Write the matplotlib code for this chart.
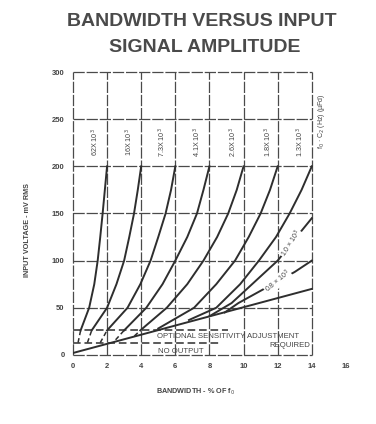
import matplotlib
matplotlib.use("Agg")
import matplotlib.pyplot as plt

plt.rcParams['font.family'] = ['Liberation Sans', 'DejaVu Sans']

# ---- data ----
x_ticks = [0, 2, 4, 6, 8, 10, 12, 14, 16]
y_ticks = [0, 50, 100, 150, 200, 250, 300]

c62_x = [0.30, 0.45, 0.95, 1.25, 1.45, 1.60, 1.74, 1.87, 2.0]
c62_y = [13, 26, 50, 75, 100, 125, 150, 175, 200]
c16_x = [0.85, 1.10, 2.0, 2.55, 3.0, 3.30, 3.58, 3.80, 4.0]
c16_y = [13, 26, 50, 75, 100, 125, 150, 175, 200]
c73_x = [1.6, 2.0, 3.2, 3.95, 4.55, 5.0, 5.43, 5.75, 6.0]
c73_y = [13, 26, 50, 75, 100, 125, 150, 175, 200]
c41_x = [2.5, 3.0, 4.3, 5.25, 6.0, 6.7, 7.27, 7.65, 8.0]
c41_y = [16, 26, 50, 75, 100, 125, 150, 175, 200]
c26_x = [3.6, 3.95, 5.5, 6.7, 7.65, 8.45, 9.1, 9.6, 10.0]
c26_y = [20, 26, 50, 75, 100, 125, 150, 175, 200]
c18_x = [5.0, 7.1, 8.4, 9.5, 10.3, 11.0, 11.55, 12.0]
c18_y = [28, 50, 75, 100, 125, 150, 175, 200]
c13_x = [6.8, 8.4, 9.8, 10.9, 11.9, 12.7, 13.4, 14.0]
c13_y = [37, 50, 75, 100, 125, 150, 175, 200]
c10_x = [8.0, 9.3, 10.5, 12.0, 13.1, 14.0]
c10_y = [41, 55, 75, 100, 125, 145]
c08_x = [8.9, 9.7, 11.0, 12.0, 13.0, 14.0]
c08_y = [45, 55, 68, 78, 88, 100]
line_x = [0.0, 14.0]
line_y = [2, 70]

vertical_curves = [
    (c62_x, c62_y, "62X 10$^3$"),
    (c16_x, c16_y, "16X 10$^3$"),
    (c73_x, c73_y, "7.3X 10$^3$"),
    (c41_x, c41_y, "4.1X 10$^3$"),
    (c26_x, c26_y, "2.6X 10$^3$"),
    (c18_x, c18_y, "1.8X 10$^3$"),
    (c13_x, c13_y, "1.3X 10$^3$"),
]

optional_level = 26
no_output_level = 12.5

# ---- figure ----
fig = plt.figure(figsize=(3.76, 4.24), dpi=100)
ax = fig.add_axes([0.194, 0.163, 0.726, 0.667])
ax.set_xlim(0, 16)
ax.set_ylim(0, 300)
for s in ax.spines.values():
    s.set_visible(False)

grid_col = '#4a4a4a'
gstyle = (0, (9, 1.5))
for xv in range(0, 15, 2):
    ax.plot([xv, xv], [0, 300], color=grid_col, lw=0.9, ls=gstyle, clip_on=False, zorder=1)
for yv in y_ticks:
    ax.plot([0, 14], [yv, yv], color=grid_col, lw=0.9, ls=gstyle, clip_on=False, zorder=1)

curve_col = '#2e2e2e'
for cx, cy, lab in vertical_curves:
    solid_x = [x for x, y in zip(cx, cy) if y >= optional_level]
    solid_y = [y for y in cy if y >= optional_level]
    ax.plot(solid_x, solid_y, color=curve_col, lw=1.4, zorder=3)
    if cy[0] < optional_level:
        dash_x = [x for x, y in zip(cx, cy) if y <= optional_level]
        dash_y = [y for y in cy if y <= optional_level]
        ax.plot(dash_x, dash_y, color=curve_col, lw=1.1, ls=(0, (3, 2)), zorder=3)

ax.plot(c10_x, c10_y, color=curve_col, lw=1.4, zorder=3)
ax.plot(c08_x, c08_y, color=curve_col, lw=1.4, zorder=3)
ax.plot(line_x, line_y, color=curve_col, lw=1.4, zorder=3)

# dashed threshold lines
ax.plot([0, 9.1], [optional_level, optional_level], color=curve_col, lw=1.1, ls=(0, (5, 2.5)), zorder=3)
ax.plot([0, 8.6], [no_output_level, no_output_level], color=curve_col, lw=1.1, ls=(0, (5, 2.5)), zorder=3)

txt_col = '#444444'
ax.text(4.9, 19.5, "OPTIONAL SENSITIVITY ADJUSTMENT", fontsize=5.6, color=txt_col, va='center', ha='left')
ax.text(13.9, 10.0, "REQUIRED", fontsize=5.6, color=txt_col, va='center', ha='right')
ax.text(5.0, 4.0, "NO OUTPUT", fontsize=5.6, color=txt_col, va='center', ha='left')

# curve labels
label_x = [1.3, 3.3, 5.25, 7.3, 9.4, 11.45, 13.3]
for (cx, cy, lab), lx in zip(vertical_curves, label_x):
    ax.text(lx, 226, lab, rotation=90, fontsize=5.2, color=txt_col, ha='center', va='center')
ax.text(14.55, 248, "f$_0$ · C$_2$ (Hz) (µFd)", rotation=90, fontsize=5.0, color=txt_col, ha='center', va='center')
ax.text(12.79, 118, "1.0 × 10$^3$", rotation=58, fontsize=5.0, color=txt_col, ha='center', va='center',
        bbox=dict(facecolor='white', edgecolor='none', pad=0.3), zorder=4)
ax.text(12.0, 78, "0.8 × 10$^3$", rotation=40, fontsize=5.0, color=txt_col, ha='center', va='center',
        bbox=dict(facecolor='white', edgecolor='none', pad=0.3), zorder=4)

# ticks
ax.set_xticks(x_ticks)
ax.set_xticklabels([str(v) for v in x_ticks])
ax.set_yticks(y_ticks)
ax.set_yticklabels([str(v) for v in y_ticks])
ax.tick_params(length=0, labelsize=5.5, labelcolor='#444444', pad=6)
for t in ax.get_xticklabels() + ax.get_yticklabels():
    t.set_fontweight('bold')

fig.text(28 / 376, 1 - 230 / 424, "INPUT VOLTAGE - mV RMS", rotation=90, fontsize=5.2,
         fontweight='bold', color='#444444', ha='center', va='center')
fig.text(196 / 376, 1 - 392 / 424, "BANDWIDTH - % OF f$_0$", fontsize=5.2,
         fontweight='bold', color='#444444', ha='center', va='center')

fig.text(202 / 376, 1 - 22 / 424, "BANDWIDTH VERSUS INPUT", fontsize=14,
         fontweight='bold', color='#4a4a4a', ha='center', va='center')
fig.text(205 / 376, 1 - 48 / 424, "SIGNAL AMPLITUDE", fontsize=14,
         fontweight='bold', color='#4a4a4a', ha='center', va='center')

fig.savefig("out.png", dpi=100, facecolor='white')
